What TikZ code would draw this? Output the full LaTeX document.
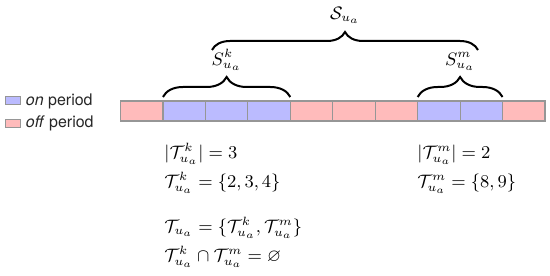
\documentclass[tikz,border=0pt]{standalone}
\usepackage{amssymb}
\usepackage{fontspec}
\setsansfont{TeX Gyre Heros}
\usepackage{tikz}
\usetikzlibrary{positioning,decorations.pathreplacing}

\definecolor{onblue}{RGB}{187,187,255}
\definecolor{offred}{RGB}{255,187,187}
\definecolor{cellline}{RGB}{150,150,150}

\begin{document}
\begin{tikzpicture}[x=0.5pt,y=-0.5pt,
  cell/.style={draw=cellline, line width=0.6pt, minimum width=21.22pt, minimum height=10pt, inner sep=0pt, outer sep=0pt},
  keybox/.style={draw=cellline, line width=0.5pt, minimum width=7.5pt, minimum height=4pt, inner sep=0pt},
  keytext/.style={font=\sffamily\fontsize{8}{10}\selectfont, text=black!85, inner sep=0pt},
  brc/.style={decorate, decoration={brace,amplitude=#1}, line width=1pt},
  brc/.default=10pt,
  lbl/.style={font=\fontsize{9}{11}\selectfont, inner sep=0pt},
  eq/.style={font=\fontsize{9}{11}\selectfont, anchor=base west, inner sep=0pt}]
\useasboundingbox (0,0) rectangle (550,276);

% legend
\node[keybox, fill=onblue] (onbox) at (12.5,101) {};
\node[keybox, fill=offred] (offbox) at (12.5,123.5) {};
\node[keytext, right=2.5pt of onbox] (ontext) {\textit{on} period};
\node[keytext, right=2.5pt of offbox] (offtext) {\textit{off} period};

% periods
\foreach \i/\c in {1/offred,2/onblue,3/onblue,4/onblue,5/offred,6/offred,7/offred,8/onblue,9/onblue,10/offred}
  \node[cell, fill=\c, anchor=north west] (c\i) at ({120.5+(\i-1)*42.45},101) {};

% braces
\draw[brc=10pt] ([yshift=2pt]c2.north west) -- ([yshift=2pt]c4.north east) coordinate[midway, yshift=10pt] (tipk);
\draw[brc=10pt] ([yshift=2pt]c8.north west) -- ([yshift=2pt]c9.north east) coordinate[midway, yshift=10pt] (tipm);
\node[lbl, above=3pt of tipk] (lblk) {$S^k_{u_a}$};
\node[lbl, above=3pt of tipm] (lblm) {$S^m_{u_a}$};
\coordinate (bigL) at (212,50);
\coordinate (bigR) at (478,50);
\draw[brc=9pt] (bigL) -- (bigR) coordinate[midway, yshift=9pt] (tipall);
\node[lbl, above=4pt of tipall] (lblall) {$\mathcal{S}_{u_a}$};

% sets
\node[eq] (cardk) at (164,159) {$|\mathcal{T}^k_{u_a}| = 3$};
\node[eq] (setk) at (164,188) {$\mathcal{T}^k_{u_a} = \{2,3,4\}$};
\node[eq] (setall) at (164,233) {$\mathcal{T}_{u_a} = \{\mathcal{T}^k_{u_a}, \mathcal{T}^m_{u_a}\}$};
\node[eq] (disj) at (164,262) {$\mathcal{T}^k_{u_a} \cap \mathcal{T}^m_{u_a} = \varnothing$};
\node[eq] (cardm) at (417,159) {$|\mathcal{T}^m_{u_a}| = 2$};
\node[eq] (setm) at (417,188) {$\mathcal{T}^m_{u_a} = \{8,9\}$};
\end{tikzpicture}
\end{document}
